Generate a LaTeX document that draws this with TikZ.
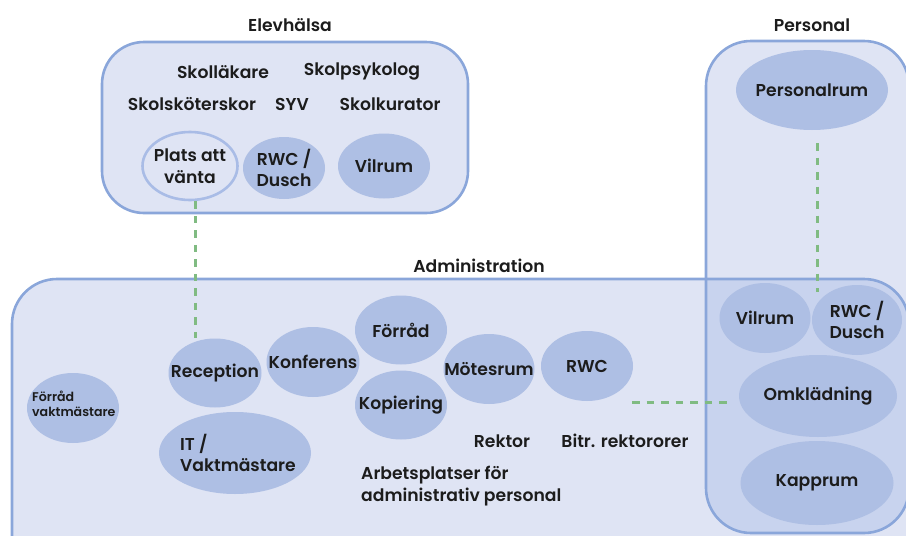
\documentclass[tikz,border=0pt]{standalone}
\usepackage{fontspec}
\setmainfont{Poppins}[UprightFont=* SemiBold]
\usetikzlibrary{shapes.geometric}
\definecolor{panelfill}{HTML}{DFE4F4}
\definecolor{panelboth}{HTML}{C8D3EE}
\definecolor{panelline}{HTML}{8AA6DA}
\definecolor{roomfill}{HTML}{AEBFE4}
\definecolor{roomline}{HTML}{A9BCE6}
\definecolor{linkgreen}{HTML}{80BB82}
\definecolor{ink}{HTML}{1C1C1C}

\begin{document}
\begin{tikzpicture}[x=1pt,y=-1pt,
  panel/.style={draw=panelline,line width=2.6pt,rounded corners=42pt},
  room/.style 2 args={ellipse,fill=roomfill,minimum width=#1,minimum height=#2,inner sep=0pt},
  txt/.style={text=ink,font=\fontsize{17.2}{21.5}\selectfont,inner sep=0pt,align=center},
  small/.style={text=ink,font=\fontsize{12.6}{22}\selectfont,inner sep=0pt,align=left},
  link/.style={draw=linkgreen,line width=3pt,dash pattern=on 7.5pt off 7pt}]

\useasboundingbox (0,0) rectangle (906,536);
\clip (0,0) rectangle (906,536);

% panel outlines
\def\elevpath{(102,42) rectangle (468,213)}
\def\adminpath{(12,279) rectangle (909,580)}
\def\perspath{(706,41) rectangle (909,533)}

\fill[panelfill,rounded corners=42pt] \elevpath;
\fill[panelfill,rounded corners=45pt] \adminpath;
\fill[panelfill,rounded corners=45pt] \perspath;
\begin{scope}
  \clip[rounded corners=45pt] \perspath;
  \fill[panelboth,rounded corners=45pt] \adminpath;
\end{scope}
\draw[panel] \elevpath;
\draw[panel,rounded corners=45pt] \adminpath;
\draw[panel,rounded corners=45pt] \perspath;

% panel titles
\node[txt] (tElev) at (290,25) {Elevhälsa};
\node[txt] (tPers) at (812,25) {Personal};
\node[txt] (tAdmin) at (479,266) {Administration};

% Elevhälsa
\node[txt] (skollak) at (223,72) {Skolläkare};
\node[txt] (skolpsy) at (362,71) {Skolpsykolog};
\node[txt] (skolsk) at (192,104) {Skolsköterskor};
\node[txt] (syv) at (292,104) {SYV};
\node[txt] (skolkur) at (390,104) {Skolkurator};

\node[room={95pt}{68pt},fill=panelfill,draw=roomline,line width=2.6pt,
      label={[txt]center:{Plats att\\vänta}}] (plats) at (190,166) {};
\node[room={82pt}{62pt},label={[txt]center:{RWC /\\Dusch}}] (rwcE) at (284,168) {};
\node[room={92pt}{65pt},label={[txt]center:Vilrum}] (vilE) at (384,166) {};

% Personal
\node[room={152pt}{80pt},label={[txt]center:Personalrum}] (personalrum) at (812,90) {};
\node[room={91pt}{70pt},label={[txt]center:Vilrum}] (vilP) at (765,318) {};
\node[room={90pt}{70pt},label={[txt]center:{RWC /\\Dusch}}] (rwcP) at (857,320) {};
\node[room={158pt}{82pt},label={[txt]center:Omklädning}] (omkl) at (818,396) {};
\node[room={153pt}{84pt},label={[txt]center:Kapprum}] (kapp) at (817,483) {};

% Administration
\node[room={92pt}{70pt}] (forradV) at (73,408) {};
\node[small,anchor=west] at (32,404) {Förråd\\[-7pt]vaktmästare};
\node[room={93pt}{69pt},label={[txt]center:Reception}] (reception) at (215,373) {};
\node[room={93pt}{70pt},label={[txt]center:Konferens}] (konf) at (313,362) {};
\node[room={152pt}{82pt}] (itv) at (235,453) {};
\node[txt,align=left,anchor=west] at (180,453) {IT /\\Vaktmästare};
\node[room={92pt}{69pt},label={[txt]center:Förråd}] (forrad) at (401,330) {};
\node[room={92pt}{69pt},label={[txt]center:Kopiering}] (kopi) at (401,405) {};
\node[room={91pt}{70pt},label={[txt]center:Mötesrum}] (mote) at (489,369) {};
\node[room={92pt}{70pt},label={[txt]center:RWC}] (rwcA) at (587,366) {};

\node[txt] (rektor) at (502,441) {Rektor};
\node[txt] (bitr) at (625,441) {Bitr. rektororer};
\node[txt,align=left,anchor=west] (arb) at (361,486) {Arbetsplatser för\\administrativ personal};

% connections
\coordinate (pjoin) at (817,292);
\coordinate (gap) at (632,402);
\draw[link] ([xshift=5pt]plats.south) -- ([xshift=5pt]plats.south |- reception.north);
\draw[link] ([xshift=5pt,yshift=-13pt]personalrum.south) -- (pjoin);
\draw[link,shorten >=10pt] (gap) -- (omkl.west |- gap);
\end{tikzpicture}
\end{document}
